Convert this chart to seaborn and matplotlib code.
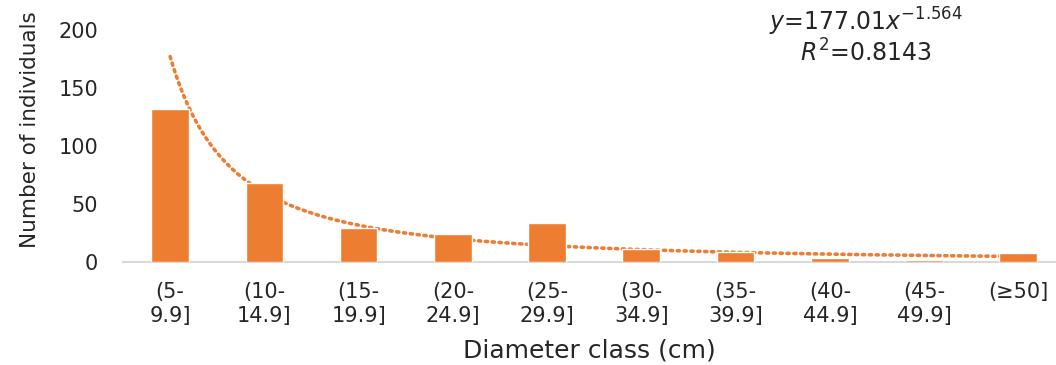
import numpy as np
import pandas as pd
import matplotlib
matplotlib.use("Agg")
import matplotlib.pyplot as plt
import seaborn as sns

# Diameter classes and tree counts
classes = ["(5-\n9.9]", "(10-\n14.9]", "(15-\n19.9]", "(20-\n24.9]", "(25-\n29.9]",
           "(30-\n34.9]", "(35-\n39.9]", "(40-\n44.9]", "(45-\n49.9]", "(≥50]\n"]
counts = [132, 68, 29, 24, 34, 11, 9, 3.5, 1.5, 8]

# Power trendline y = a * x^b
coef_a = 177.01
coef_b = -1.564
r_squared = 0.8143

sns.set_theme(style="white")
plt.rcParams["font.family"] = ["DejaVu Sans"]

orange = "#ED7D31"
ink = "#262626"
df = pd.DataFrame({"cls": classes, "n": counts})

fig = plt.figure(figsize=(10.56, 3.65), dpi=100)
ax = fig.add_axes([0.1165, 0.282, 0.8835, 0.636])

sns.barplot(data=df, x="cls", y="n", color=orange, saturation=1, width=0.4, ax=ax)
for bar in ax.patches:
    bar.set_zorder(3)

# trendline sits behind the bars
xfine = np.linspace(1, len(classes), 300)
ax.plot(xfine - 1, coef_a * xfine ** coef_b, linestyle=(0, (0.6, 1.3)),
        color=orange, lw=2.6, dash_capstyle="round", zorder=2)

ax.set_ylim(0, 200)
ax.set_xlim(-0.5, 9.4)
ax.set_yticks([0, 50, 100, 150, 200])
ax.tick_params(axis="y", labelsize=15, colors=ink, length=0, pad=18)
ax.tick_params(axis="x", labelsize=15, colors=ink, length=0, pad=14)
for lab in ax.get_xticklabels():
    lab.set_linespacing(1.3)

for s in ["top", "right", "left"]:
    ax.spines[s].set_visible(False)
ax.spines["bottom"].set_color("#D9D9D9")
ax.spines["bottom"].set_linewidth(1.5)

ax.set_ylabel("Number of individuals", fontsize=15.5, color=ink)
ax.yaxis.set_label_coords(-0.089, 0.569)
ax.set_xlabel("Diameter class (cm)", fontsize=18, color=ink, labelpad=9)

ax.text(0.796, 1.035, r"$\mathit{y}$=177.01$\mathit{x}^{-1.564}$", transform=ax.transAxes,
        ha="center", va="center", fontsize=17, color=ink)
ax.text(0.796, 0.90, r"$\mathit{R}^{2}$=" + f"{r_squared:.4f}", transform=ax.transAxes,
        ha="center", va="center", fontsize=17, color=ink)

fig.savefig("out.png", dpi=100, facecolor="white")
